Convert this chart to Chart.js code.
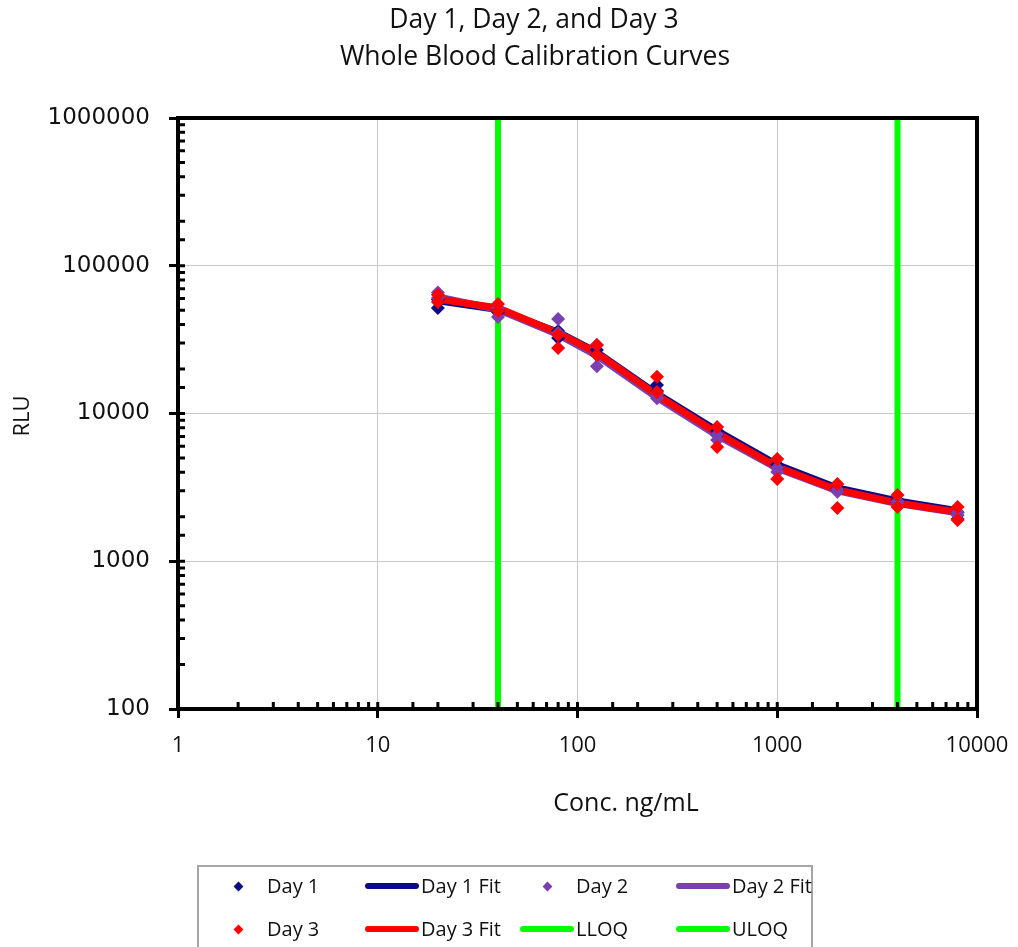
<!DOCTYPE html>
<html><head><meta charset="utf-8">
<script src="https://cdn.jsdelivr.net/npm/chart.js@4.4.1/dist/chart.umd.min.js"></script>
<style>
html,body{margin:0;padding:0;background:#fff;overflow:hidden;}
#wrap{position:relative;width:1018px;height:947px;overflow:hidden;}
#c{position:absolute;left:0;top:0;}
#legendBox{position:absolute;left:197px;top:865px;width:616px;height:120px;border:2px solid #a6a6a6;box-sizing:border-box;}
.lt{position:absolute;font-family:'Open Sans';font-size:20px;color:#111;white-space:nowrap;line-height:26px;height:26px;}
.ld{position:absolute;width:7px;height:7px;transform:rotate(45deg);}
.ll{position:absolute;width:54px;height:6px;}
</style></head><body>
<div id="wrap"><canvas id="c" width="1018" height="947"></canvas><div id="legendBox"></div></div>
<script>
// ---- data ----
const concentrations = [20, 40, 80, 125, 250, 500, 1000, 2000, 4000, 8000];
const day1RepA = [51800, 50000, 36200, 26900, 15600, 7160, 4280, 3030, 2600, 2150];
const day1RepB = [59000, 48500, 32400, 25000, 14200, 7600, 4500, 3100, 2500, 1930];
const day2RepA = [65900, 45000, 43600, 20900, 12700, 6620, 4020, 3060, 2480, 2150];
const day2RepB = [60500, 51800, 35000, 29100, 13500, 7200, 4300, 2950, 2550, 2050];
const day3RepA = [63700, 55100, 27700, 29100, 17700, 8110, 4920, 3330, 2810, 2330];
const day3RepB = [56900, 49400, 34000, 24900, 14000, 5930, 3600, 2290, 2330, 1900];
const day1Fit = [58000, 50500, 35500, 26000, 13600, 7650, 4500, 3130, 2560, 2200];
const day2Fit = [61500, 50500, 34200, 24600, 12800, 7100, 4250, 2990, 2460, 2130];
const day3Fit = [59500, 51800, 35100, 25700, 13300, 7380, 4340, 3040, 2480, 2150];
const lloqConc = 40;
const uloqConc = 4000;
const yRange = [100, 1000000];
const xRange = [1, 10000];
const xTickLabels = [1, 10, 100, 1000, 10000];
const yTickLabels = [100, 1000, 10000, 100000, 1000000];
const titleLines = ['Day 1, Day 2, and Day 3', 'Whole Blood Calibration Curves'];
const xAxisTitle = 'Conc. ng/mL';
const yAxisTitle = 'RLU';
const seriesNames = ['Day 1', 'Day 1 Fit', 'Day 2', 'Day 2 Fit', 'Day 3', 'Day 3 Fit', 'LLOQ', 'ULOQ'];

// ---- styles ----
const NAVY = '#0b0b8a', PURPLE = '#7a3fb0', RED = '#ff0000', GREEN = '#00ff00';

const pts = (a, b) => concentrations.flatMap((c, i) => [{x: c, y: a[i]}, {x: c, y: b[i]}]);
const curve = (f) => concentrations.map((c, i) => ({x: c, y: f[i]}));
const vline = (c) => [{x: c, y: yRange[0]}, {x: c, y: yRange[1]}];

const scatterDs = (label, data, color, order) => ({type: 'scatter', label, data, order,
  pointStyle: 'rectRot', pointRadius: 7, backgroundColor: color, borderColor: color, borderWidth: 0, showLine: false});
const lineDs = (label, data, color, width, order) => ({type: 'line', label, data, order,
  borderColor: color, backgroundColor: color, borderWidth: width, pointRadius: 0, tension: 0, fill: false});

const datasets = [
  scatterDs(seriesNames[0], pts(day1RepA, day1RepB), NAVY, 3),
  lineDs(seriesNames[1], curve(day1Fit), NAVY, 7, 8),
  scatterDs(seriesNames[2], pts(day2RepA, day2RepB), PURPLE, 2),
  lineDs(seriesNames[3], curve(day2Fit), PURPLE, 7, 7),
  scatterDs(seriesNames[4], pts(day3RepA, day3RepB), RED, 1),
  lineDs(seriesNames[5], curve(day3Fit), RED, 7, 6),
  lineDs(seriesNames[6], vline(lloqConc), GREEN, 6, 5),
  lineDs(seriesNames[7], vline(uloqConc), GREEN, 6, 4)
];

const isLabelled = (arr, v) => arr.some(t => Math.abs(t - v) < 1e-6 * t);

const framePlugin = {
  id: 'frame',
  afterDatasetsDraw(chart) {
    const {ctx, chartArea: a, scales: {x, y}} = chart;
    ctx.save();
    ctx.strokeStyle = '#000';
    ctx.lineWidth = 3;
    ctx.beginPath();
    x.ticks.forEach(t => { const p = x.getPixelForValue(t.value); ctx.moveTo(p, a.bottom); ctx.lineTo(p, a.bottom - 7); });
    y.ticks.forEach(t => { const p = y.getPixelForValue(t.value); ctx.moveTo(a.left, p); ctx.lineTo(a.left + 7, p); });
    ctx.stroke();
    ctx.lineWidth = 4;
    ctx.strokeRect(a.left, a.top, a.right - a.left, a.bottom - a.top);
    ctx.restore();
  },
  afterDraw(chart) {
    const {ctx} = chart;
    ctx.save();
    ctx.fillStyle = '#111';
    ctx.textAlign = 'center';
    ctx.textBaseline = 'middle';
    ctx.font = '26.5px "Open Sans"';
    ctx.fillText(titleLines[0], 534, 20);
    ctx.fillText(titleLines[1], 535, 57);
    ctx.font = '25px "Open Sans"';
    ctx.fillText(xAxisTitle, 626, 804);
    ctx.translate(23, 416);
    ctx.rotate(-Math.PI / 2);
    ctx.font = '22px "Open Sans"';
    ctx.fillText(yAxisTitle, 0, 0);
    ctx.restore();
  }
};

const chart = new Chart(document.getElementById('c'), {
  data: {datasets},
  options: {
    responsive: false,
    animation: false,
    layout: {padding: {top: 118, right: 41, bottom: 178, left: 0}},
    plugins: {legend: {display: false}, tooltip: {enabled: false}, title: {display: false}},
    scales: {
      x: {
        type: 'logarithmic', min: xRange[0], max: xRange[1], position: 'bottom',
        afterFit(s) { s.height = 60; s.paddingLeft = 0; s.paddingRight = 0; },
        border: {display: false},
        grid: {
          color: c => (c.tick && isLabelled(xTickLabels, c.tick.value)) ? '#c8c8c8' : 'rgba(0,0,0,0)',
          lineWidth: 1,
          tickColor: c => (c.tick && isLabelled(xTickLabels, c.tick.value)) ? '#000' : 'rgba(0,0,0,0)',
          tickLength: 9, tickWidth: 3
        },
        ticks: {
          autoSkip: false, maxRotation: 0, padding: 15, color: '#111',
          font: {family: 'Open Sans', size: 22},
          callback: v => isLabelled(xTickLabels, v) ? String(v) : ''
        }
      },
      y: {
        type: 'logarithmic', min: yRange[0], max: yRange[1], position: 'left',
        afterFit(s) { s.width = 178; s.paddingTop = 0; s.paddingBottom = 0; },
        border: {display: false},
        grid: {
          color: c => (c.tick && isLabelled(yTickLabels, c.tick.value)) ? '#c8c8c8' : 'rgba(0,0,0,0)',
          lineWidth: 1,
          tickColor: c => (c.tick && isLabelled(yTickLabels, c.tick.value)) ? '#000' : 'rgba(0,0,0,0)',
          tickLength: 9, tickWidth: 3
        },
        ticks: {
          autoSkip: false, padding: 19, color: '#111',
          font: {family: 'DejaVu Sans', size: 23},
          callback: v => isLabelled(yTickLabels, v) ? String(v) : ''
        }
      }
    }
  },
  plugins: [framePlugin]
});

// ---- HTML legend built from the chart's datasets ----
const legendColX = [211, 365, 520, 676];
const legendRowY = [886, 929];
const wrap = document.getElementById('wrap');
chart.data.datasets.forEach((ds, i) => {
  const col = i % 4, row = Math.floor(i / 4);
  const x0 = legendColX[col], cy = legendRowY[row];
  const sym = document.createElement('div');
  if (ds.type === 'scatter') {
    sym.className = 'ld';
    sym.style.left = (x0 + 27 - 3.5) + 'px';
    sym.style.top = (cy - 3.5) + 'px';
  } else {
    sym.className = 'll';
    sym.style.left = x0 + 'px';
    sym.style.top = (cy - 3) + 'px';
    sym.style.borderRadius = '3px';
  }
  sym.style.background = ds.borderColor;
  wrap.appendChild(sym);
  const t = document.createElement('div');
  t.className = 'lt';
  t.textContent = ds.label;
  t.style.left = (x0 + 56) + 'px';
  t.style.top = (cy - 13) + 'px';
  wrap.appendChild(t);
});
</script>
</body></html>
